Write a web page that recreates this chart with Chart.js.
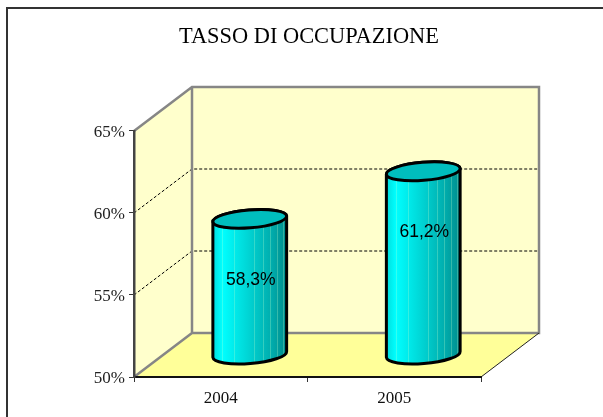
<!DOCTYPE html>
<html><head><meta charset="utf-8">
<style>html,body{margin:0;padding:0;background:#fff}canvas{display:block}</style>
<script src="https://cdn.jsdelivr.net/npm/chart.js@4"></script>
</head><body>
<canvas id="c" width="603" height="417"></canvas>
<script>
const titleText = 'TASSO DI OCCUPAZIONE';
const categories = ['2004', '2005'];
const occupationRates = [58.3, 61.2];
const gridValues = [55, 60];
const axisMin = 50, axisMax = 65, axisStep = 5;

const DX = 58, DY = 44;
const TILT = -0.08, RY = 9;
const streaks = [.13, .29, .56, .68, .78, .87, .95];

const scene = {
  id: 'scene',
  beforeDraw(chart) {
    const { ctx, chartArea: a, scales: { y } } = chart;
    ctx.save();
    ctx.fillStyle = '#fff';
    ctx.fillRect(0, 0, chart.width, chart.height);
    // outer frame
    ctx.strokeStyle = '#333';
    ctx.lineWidth = 2;
    ctx.beginPath();
    ctx.moveTo(7, 420); ctx.lineTo(7, 8); ctx.lineTo(610, 8);
    ctx.stroke();
    // floor
    ctx.fillStyle = '#FFFF99';
    ctx.beginPath();
    ctx.moveTo(a.left, a.bottom); ctx.lineTo(a.left + DX, a.bottom - DY);
    ctx.lineTo(a.right + DX, a.bottom - DY); ctx.lineTo(a.right, a.bottom);
    ctx.closePath(); ctx.fill();
    // walls
    ctx.fillStyle = '#FFFFCC';
    ctx.fillRect(a.left + DX, a.top - DY, a.right - a.left, a.bottom - a.top);
    ctx.beginPath();
    ctx.moveTo(a.left, a.top); ctx.lineTo(a.left + DX, a.top - DY);
    ctx.lineTo(a.left + DX, a.bottom - DY); ctx.lineTo(a.left, a.bottom);
    ctx.closePath(); ctx.fill();
    // gridlines
    ctx.strokeStyle = '#000';
    ctx.lineWidth = 1;
    ctx.setLineDash([3, 2]);
    gridValues.forEach(v => {
      const py = Math.round(y.getPixelForValue(v));
      ctx.beginPath();
      ctx.moveTo(a.left, py); ctx.lineTo(a.left + DX, py - DY);
      ctx.lineTo(a.right + DX, py - DY);
      ctx.stroke();
    });
    ctx.setLineDash([]);
    // grey wall edges
    ctx.strokeStyle = '#868686';
    ctx.lineWidth = 2.5;
    ctx.lineJoin = 'miter';
    ctx.beginPath();
    ctx.moveTo(a.left, a.top); ctx.lineTo(a.left + DX, a.top - DY);
    ctx.lineTo(a.right + DX, a.top - DY); ctx.lineTo(a.right + DX, a.bottom - DY);
    ctx.lineTo(a.left + DX, a.bottom - DY); ctx.lineTo(a.left + DX, a.top - DY);
    ctx.moveTo(a.left + DX, a.bottom - DY); ctx.lineTo(a.left, a.bottom);
    ctx.stroke();
    // floor right edge
    ctx.strokeStyle = '#222';
    ctx.lineWidth = 1;
    ctx.beginPath();
    ctx.moveTo(a.right, a.bottom); ctx.lineTo(a.right + DX, a.bottom - DY);
    ctx.stroke();
    ctx.restore();
  },
  beforeDatasetDraw() { return false; },
  afterDatasetsDraw(chart) {
    const { ctx } = chart;
    const meta = chart.getDatasetMeta(0);
    meta.data.forEach((bar, i) => {
      const cx = bar.x + DX / 2, top = bar.y - DY / 2, base = bar.base - DY / 2;
      const rx = bar.width / 2;
      ctx.save();
      const g = ctx.createLinearGradient(cx - rx, 0, cx + rx, 0);
      g.addColorStop(0, '#00dcdc');
      g.addColorStop(.13, '#00ffff');
      g.addColorStop(.5, '#00d2d2');
      g.addColorStop(.8, '#00acac');
      g.addColorStop(1, '#008c8c');
      const body = () => {
        ctx.beginPath();
        ctx.ellipse(cx, base, rx, RY, TILT, 0, Math.PI);
        ctx.ellipse(cx, top, rx, RY, TILT, Math.PI, 2 * Math.PI);
        ctx.closePath();
      };
      body();
      ctx.fillStyle = g;
      ctx.fill();
      ctx.save();
      body(); ctx.clip();
      ctx.strokeStyle = 'rgba(190,255,200,.28)';
      ctx.lineWidth = 1;
      streaks.forEach(f => {
        const sx = Math.round(cx - rx + f * 2 * rx) + .5;
        ctx.beginPath(); ctx.moveTo(sx, top - RY); ctx.lineTo(sx, base + RY + 4); ctx.stroke();
      });
      ctx.restore();
      body();
      ctx.strokeStyle = '#000';
      ctx.lineWidth = 3;
      ctx.stroke();
      ctx.beginPath();
      ctx.ellipse(cx, top, rx, RY, TILT, 0, 2 * Math.PI);
      ctx.fillStyle = '#00BEBE';
      ctx.fill();
      ctx.stroke();
      // value label
      ctx.fillStyle = '#000';
      ctx.font = '17.5px "Liberation Sans", Arial, sans-serif';
      ctx.textAlign = 'center';
      ctx.textBaseline = 'middle';
      ctx.fillText(occupationRates[i].toFixed(1).replace('.', ',') + '%', cx + 1, top + 61);
      ctx.restore();
    });
  }
};

new Chart(document.getElementById('c'), {
  type: 'bar',
  data: {
    labels: categories,
    datasets: [{ data: occupationRates, base: axisMin, backgroundColor: '#00CCCC', barThickness: 74 }]
  },
  options: {
    responsive: false,
    animation: false,
    events: [],
    layout: { padding: { left: 15, right: 0, top: 0, bottom: 0 } },
    plugins: {
      legend: { display: false },
      tooltip: { enabled: false },
      title: {
        display: true,
        text: titleText,
        color: '#000',
        font: { family: '"Liberation Serif"', size: 22.4, weight: 'normal', lineHeight: 1.2 },
        padding: { top: 24, bottom: 80.1 }
      }
    },
    scales: {
      x: {
        afterFit(s) { s.height = 40; },
        grid: { drawOnChartArea: false, tickLength: 5, tickColor: '#333', lineWidth: 1 },
        border: { color: '#111', width: 2 },
        ticks: {
          color: '#111', padding: 6, maxRotation: 0,
          font: { family: '"Liberation Serif"', size: 17 }
        }
      },
      y: {
        min: axisMin, max: axisMax,
        afterFit(s) { s.width = 119; },
        grid: { drawOnChartArea: false, tickLength: 5, tickColor: '#333', lineWidth: 1 },
        border: { color: '#444', width: 2.5 },
        ticks: {
          stepSize: axisStep, color: '#222', padding: 4, labelOffset: 1.5,
          font: { family: '"Liberation Serif"', size: 17 },
          callback: v => v + '%'
        }
      },
      y2: {
        position: 'right',
        afterFit(s) { s.width = 122; },
        grid: { display: false },
        border: { display: false },
        ticks: { display: false }
      }
    }
  },
  plugins: [scene]
});
</script>
</body></html>
